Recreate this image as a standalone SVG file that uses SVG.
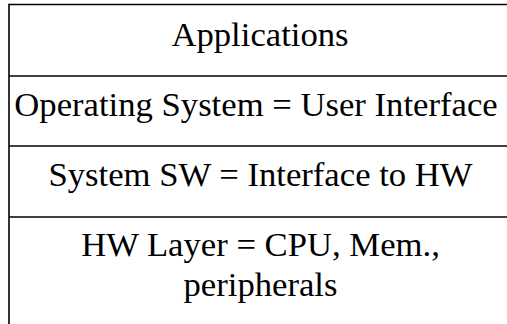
<svg xmlns="http://www.w3.org/2000/svg" width="507" height="324" viewBox="0 0 507 324">
  <style>
    .rule { stroke: #000; stroke-width: 1.6; fill: none; }
    .label { font-family: 'Liberation Serif', Tinos, 'Nimbus Roman', 'Noto Serif', 'DejaVu Serif', serif; font-size: 34.67px; fill: #000; text-anchor: middle; }
  </style>
  <rect x="0" y="0" width="507" height="324" fill="#fff"/>
  <!-- table rules between the layers -->
  <g id="connectors">
    <line class="rule" x1="9" y1="4.5" x2="510" y2="4.5"/>
    <line class="rule" x1="9" y1="76" x2="510" y2="76"/>
    <line class="rule" x1="9" y1="146" x2="510" y2="146"/>
    <line class="rule" x1="9" y1="217" x2="510" y2="217"/>
    <line class="rule" x1="9" y1="3.7" x2="9" y2="324"/>
  </g>
  <g id="applications">
    <text class="label" x="260" y="46">Applications</text>
  </g>
  <g id="operating-system">
    <text class="label" x="256" y="115.5">Operating System = User Interface</text>
  </g>
  <g id="system-sw">
    <text class="label" x="260.5" y="186">System SW = Interface to HW</text>
  </g>
  <g id="hw-layer">
    <text class="label" x="260.5" y="256">HW Layer = CPU, Mem.,</text>
    <text class="label" x="260.5" y="296">peripherals</text>
  </g>
</svg>
